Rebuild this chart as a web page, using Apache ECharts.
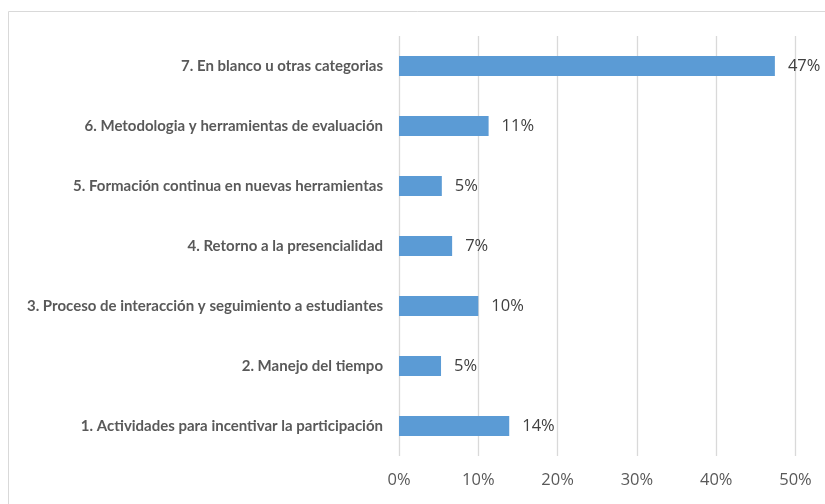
<!DOCTYPE html>
<html>
<head>
<meta charset="utf-8">
<script src="https://cdn.jsdelivr.net/npm/echarts@6/dist/echarts.min.js"></script>
<style>html,body{margin:0;padding:0;background:#fff}#c{width:825px;height:504px}</style>
</head>
<body>
<div id="c"></div>
<script>
var categories = [
  "1. Actividades para incentivar la participación",
  "2. Manejo del tiempo",
  "3. Proceso de interacción y seguimiento a estudiantes",
  "4. Retorno a la presencialidad",
  "5. Formación continua en nuevas herramientas",
  "6. Metodologia y herramientas de evaluación",
  "7. En blanco u otras categorias"
];
var values = [13.9, 5.3, 10.0, 6.7, 5.4, 11.3, 47.4];
var xTicks = [0, 10, 20, 30, 40, 50];

var chart = echarts.init(document.getElementById('c'), null, {renderer: 'canvas'});
chart.setOption({
  animation: false,
  graphic: [{
    type: 'rect', silent: true, z: -10,
    shape: {x: 8.5, y: 11.5, width: 830, height: 510},
    style: {fill: 'none', stroke: '#d9d9d9', lineWidth: 1}
  }],
  grid: {left: 399, right: 29.5, top: 36, bottom: 48},
  xAxis: {
    type: 'value', min: xTicks[0], max: xTicks[xTicks.length - 1], interval: 10,
    axisLine: {show: false}, axisTick: {show: false},
    splitLine: {lineStyle: {color: '#d9d9d9', width: 1.3}},
    axisLabel: {formatter: function (v) { return v + '%'; }, color: '#595959',
      fontFamily: 'Open Sans, sans-serif', fontSize: 16.5, margin: 16}
  },
  yAxis: {
    type: 'category', data: categories,
    axisLine: {show: false}, axisTick: {show: false},
    axisLabel: {color: '#595959', fontFamily: 'Lato, sans-serif',
      fontWeight: 'bold', fontSize: 15, margin: 16}
  },
  series: [{
    type: 'bar', data: values, barWidth: 20,
    itemStyle: {color: '#5b9bd5'},
    label: {show: true, position: 'right', distance: 13,
      formatter: function (p) { return Math.round(p.value) + '%'; },
      color: '#404040', fontFamily: 'Open Sans, sans-serif', fontSize: 16.5}
  }]
});
</script>
</body>
</html>
